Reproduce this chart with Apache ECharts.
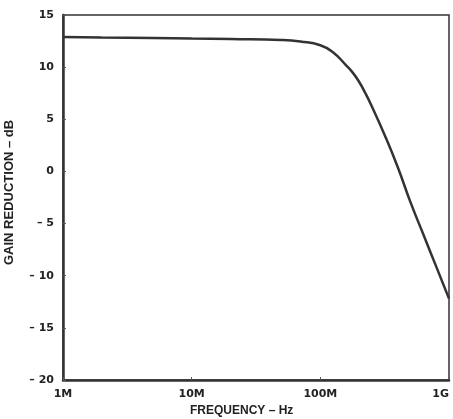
<!DOCTYPE html>
<html><head><meta charset="utf-8">
<script src="https://cdn.jsdelivr.net/npm/echarts@6/dist/echarts.min.js"></script>
<style>html,body{margin:0;padding:0;background:#fff}#c{width:453px;height:419px}</style>
</head><body><div id="c"></div>
<script>
const freqHz = [1e6, 2e6, 5e6, 1e7, 2e7, 5e7, 7e7, 1e8, 1.26e8, 1.58e8, 1.78e8, 2e8, 2.24e8, 2.5e8, 3.16e8, 4e8, 5e8, 6.3e8, 8e8, 1e9];
const gainDb = [12.9, 12.85, 12.8, 12.75, 12.7, 12.6, 12.45, 12.1, 11.4, 10.2, 9.5, 8.6, 7.5, 6.3, 3.5, 0.4, -2.9, -6.0, -9.2, -12.2];
const xTickLabels = {1e6: '1M', 1e7: '10M', 1e8: '100M', 1e9: '1G'};
const yTicks = [-20, -15, -10, -5, 0, 5, 10, 15];
const xTitle = 'FREQUENCY – Hz';
const yTitle = 'GAIN REDUCTION – dB';

const chart = echarts.init(document.getElementById('c'));
const font = 'Liberation Sans, Arial, sans-serif';
const tickFont = 'DejaVu Sans, sans-serif';
chart.setOption({
  animation: false,
  grid: {left: 63, top: 15, right: 4, bottom: 39, show: true, borderColor: '#333', borderWidth: 1.5},
  xAxis: {
    type: 'log', min: 1e6, max: 1e9, logBase: 10,
    axisLine: {show: true, onZero: false, lineStyle: {color: '#333', width: 2.5}},
    axisTick: {show: true, inside: true, length: 3, lineStyle: {color: '#555'}},
    minorTick: {show: false},
    splitLine: {show: false},
    axisLabel: {
      color: '#222', fontFamily: tickFont, fontWeight: 'bold', fontSize: 11, margin: 9,
      alignMaxLabel: 'right',
      formatter: v => xTickLabels[Math.round(v)] || ''
    }
  },
  yAxis: {
    type: 'value', min: -20, max: 15, interval: 5,
    axisLine: {show: true, onZero: false, lineStyle: {color: '#333', width: 2.5}},
    axisTick: {show: true, inside: true, length: 3, lineStyle: {color: '#555'}},
    splitLine: {show: false},
    axisLabel: {
      color: '#222', fontFamily: tickFont, fontWeight: 'bold', fontSize: 11, margin: 9,
      formatter: v => yTicks.includes(v) ? (v < 0 ? '– ' + Math.abs(v) : String(v)) : ''
    }
  },
  graphic: [
    {type: 'text', left: 190, top: 405, style: {text: xTitle, fill: '#222', font: 'bold 12px ' + font}},
    {type: 'text', x: 9, y: 265, rotation: Math.PI / 2, originX: 0, originY: 0,
     style: {text: yTitle, fill: '#222', font: 'bold 13px ' + font, textAlign: 'left', textVerticalAlign: 'middle'}}
  ],
  series: [{
    type: 'line', smooth: 0.5, showSymbol: false,
    lineStyle: {color: '#333', width: 2.5},
    data: freqHz.map((f, i) => [f, gainDb[i]])
  }]
});
</script></body></html>
